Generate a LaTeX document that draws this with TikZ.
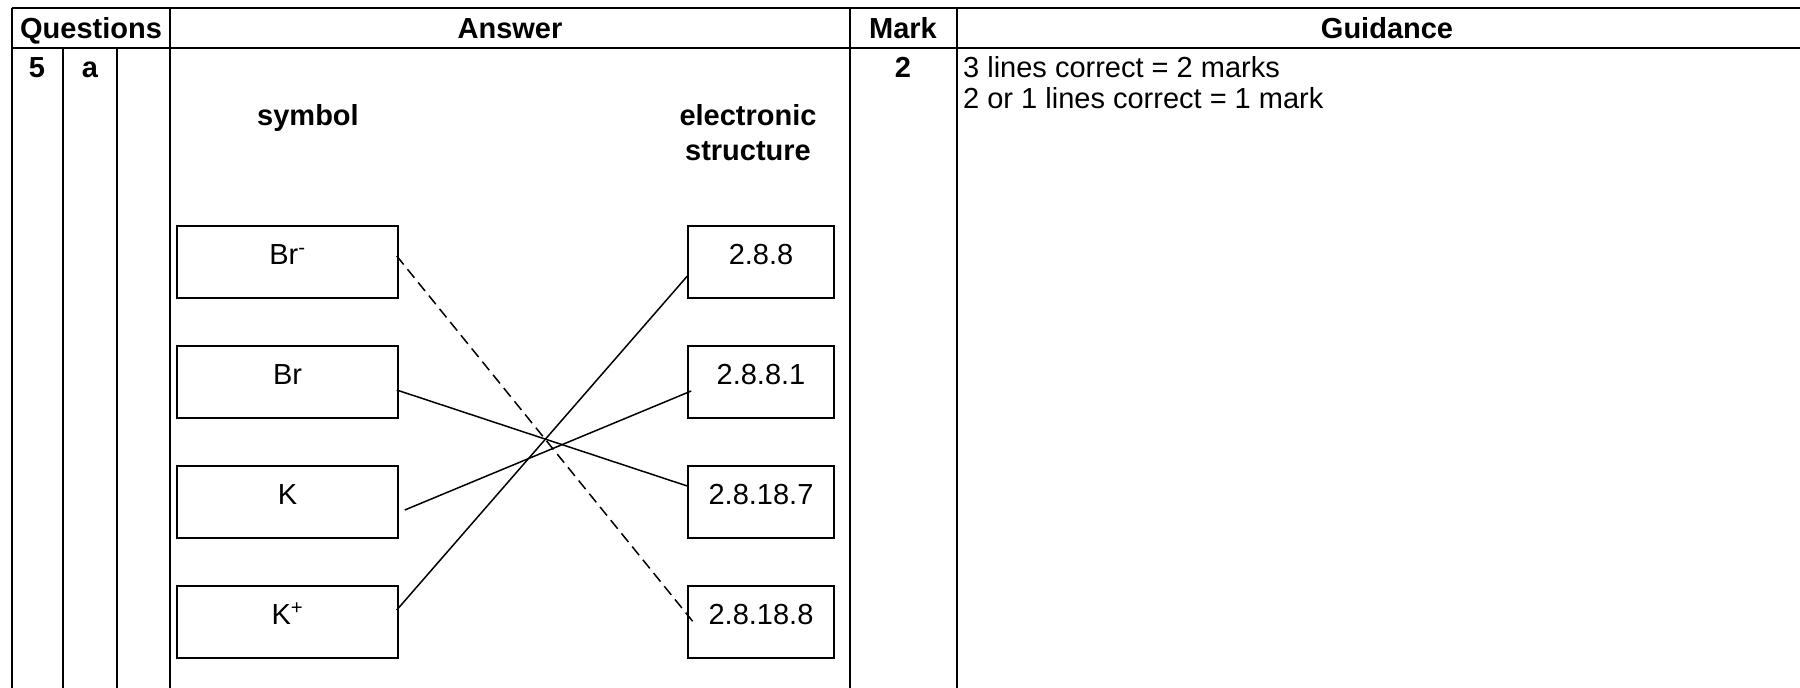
\documentclass[tikz,border=0pt]{standalone}
\usepackage{fontspec}
\setmainfont{Liberation Sans}
\begin{document}
\begin{tikzpicture}[x=1pt,y=-1pt,
  grid/.style={line width=2pt},
  box/.style={draw, line width=1.5pt, inner sep=0pt, minimum width=221pt,
    text height=38pt, text depth=34pt, font=\fontsize{29}{31}\selectfont},
  rbox/.style={box, minimum width=146pt},
  txt/.style={anchor=base, inner sep=0pt, font=\fontsize{29}{31}\selectfont},
  btxt/.style={anchor=base, inner sep=0pt, font=\fontsize{29}{31}\selectfont\bfseries},
  link/.style={line width=1.5pt},
  dlink/.style={link, dash pattern=on 11pt off 6pt}]
\useasboundingbox (0,0) rectangle (1800,688);
\fill[white] (0,0) rectangle (1800,688);
% table grid
\draw[grid] (11.7,8) -- (1800,8);
\draw[grid] (11.7,48) -- (1800,48);
\draw[grid] (11.7,8) -- (11.7,688);
\draw[grid] (63,48) -- (63,688);
\draw[grid] (117,48) -- (117,688);
\draw[grid] (170,8) -- (170,688);
\draw[grid] (850,8) -- (850,688);
\draw[grid] (957,8) -- (957,688);
% header
\node[btxt] (hq) at (91,38) {Questions};
\node[btxt] (ha) at (510,38) {Answer};
\node[btxt] (hm) at (903,38) {Mark};
\node[btxt] (hg) at (1387,38) {Guidance};
% row
\node[btxt] (q5) at (37,77) {5};
\node[btxt] (qa) at (90,77) {a};
\node[btxt] (m2) at (903,77) {2};
\node[txt, anchor=base west] (g1) at (963,77) {3 lines correct = 2 marks};
\node[txt, anchor=base west] (g2) at (963,108) {2 or 1 lines correct = 1 mark};
% answer headings
\node[btxt] (sym) at (308,125) {symbol};
\node[btxt] (el1) at (748,125) {electronic};
\node[btxt] (el2) at (748,160) {structure};
% boxes
\node[box] (brm) at (287.5,262) {Br\textsuperscript{-}};
\node[box] (br)  at (287.5,382) {Br};
\node[box] (k)   at (287.5,502) {K};
\node[box] (kp)  at (287.5,622) {K\textsuperscript{+}};
\node[rbox] (r1) at (761,262) {2.8.8};
\node[rbox] (r2) at (761,382) {2.8.8.1};
\node[rbox] (r3) at (761,502) {2.8.18.7};
\node[rbox] (r4) at (761,622) {2.8.18.8};
% connectors
\draw[dlink] ([xshift=-2pt,yshift=6pt]brm.east) -- ([xshift=6pt]r4.west);
\draw[link] ([xshift=-2pt,yshift=-8pt]br.east) -- ([yshift=16pt]r3.west);
\draw[link] ([xshift=6pt,yshift=-8pt]k.east) -- ([xshift=4pt,yshift=-9pt]r2.west);
\draw[link] ([xshift=-2pt,yshift=12pt]kp.east) -- ([xshift=1pt,yshift=-13pt]r1.west);
\end{tikzpicture}
\end{document}
